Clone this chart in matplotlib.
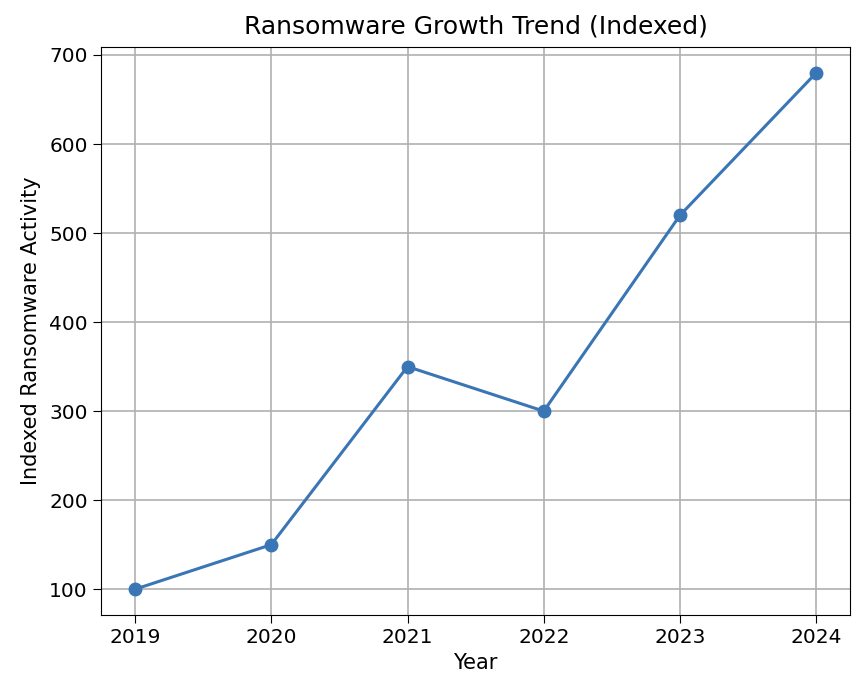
import matplotlib

matplotlib.use('Agg')
import matplotlib.pyplot as plt

# Indexed ransomware activity by year
years = [2019, 2020, 2021, 2022, 2023, 2024]
activity = [100, 150, 350, 300, 520, 680]


def main():
    plt.rcParams['font.family'] = 'DejaVu Sans'
    fig, ax = plt.subplots(figsize=(8.52, 6.76), dpi=100)
    fig.subplots_adjust(left=0.1185, right=0.998, top=0.9305, bottom=0.0902)

    ax.plot(years, activity, marker='o', color='#3a76b5', linewidth=2.2, markersize=9)

    ax.set_title("Ransomware Growth Trend (Indexed)", fontsize=18, pad=10)
    ax.set_xlabel("Year", fontsize=15, labelpad=4)
    ax.set_ylabel("Indexed Ransomware Activity", fontsize=15, labelpad=6)
    ax.set_xticks(years)
    ax.tick_params(labelsize=14.5, length=6)
    ax.grid(True, color='#b0b0b0', linewidth=1.2)

    plt.savefig("out.png", dpi=100)
    plt.close()


if __name__ == "__main__":
    main()
